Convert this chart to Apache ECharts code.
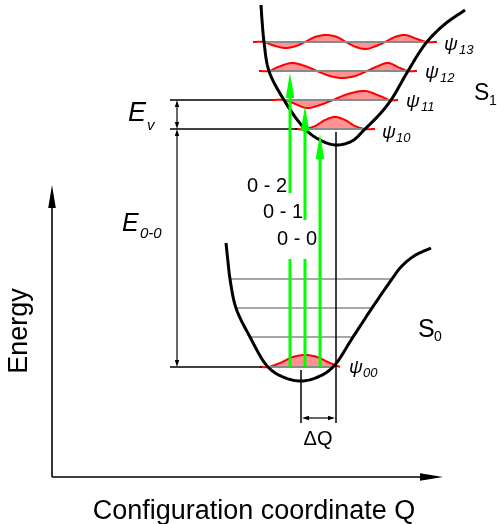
<!DOCTYPE html>
<html>
<head>
<meta charset="utf-8">
<script src="https://cdn.jsdelivr.net/npm/echarts@6/dist/echarts.min.js"></script>
<style>html,body{margin:0;padding:0;background:#fff;}#c{width:497px;height:524px;}</style>
</head>
<body>
<div id="c"></div>
<script>
// Coordinates: Q (horizontal) and E (vertical scale of the diagram, increasing downward)
const S0_curve = [[226,243],[228,262],[230,279],[236,308],[250,337],[268,367],[283,377],[301,381],[318,377],[333,367],[353,337],[372,308],[392,279],[401,267],[414,256],[431,248]];
const S1_curve = [[261,5],[262,20],[264,42],[269,71],[284,100],[305,129],[320,140],[336,145],[352,141],[365,129],[379,115],[391,100],[408,71],[426,43],[445,24],[465,10]];
const S0_levels = [[230,392,279],[236,372,308],[250,353,337]];
const psiLevels = [[268,333,367],[305,365,129],[285,390,100],[269,408,71],[264,427,42]];
const psi00 = [[260,367],[268,367],[280,363],[293,357],[305,355],[317,357],[330,363],[340,367]];
const psi10 = [[295,129],[305,129],[315,126],[325,120],[335,117],[345,120],[355,126],[365,129],[375,129]];
const psi11 = [[272,100],[285,100],[293,103],[307,108],[320,105],[333,100],[348,94],[365,91],[380,96],[390,100],[398,100]];
const psi12 = [[259,71],[269,71],[278,67],[292,63],[305,66],[317,71],[330,76],[342,78],[355,76],[367,71],[378,66],[388,63],[400,68],[408,71],[417,71]];
const psi13 = [[253,42],[264,42],[272,45],[285,48],[296,46],[305,42],[315,37],[326,35],[337,37],[346,42],[356,47],[366,49],[376,46],[385,42],[395,37],[405,35],[417,39],[427,42],[437,42]];
const waveBaselines = [367,129,100,71,42];
const leaderLines = [[170,272,100],[170,297,129],[170,262,367]];
const dropLines = [[336,132,423],[301,370,423]];
const greenSegments = [[290,367,259],[305,367,259]];
const greenArrows = [[290,193,290,73],[305,220,305,106],[320,367,320,134]];
const measureArrows = [[177,100,177,129],[177,129,177,367],[302,418,335,418]];
const axisArrows = [[52,477,52,185],[52,477,443,477]];

const FONT = '"Liberation Sans", Arial, sans-serif';

// centripetal Catmull-Rom drawing through given pixel points (rendering only)
function spline(pts, steps){
  steps = steps || 14;
  const n = pts.length, out = [];
  for (let i = 0; i < n-1; i++){
    const p0 = i>0 ? pts[i-1] : [2*pts[0][0]-pts[1][0], 2*pts[0][1]-pts[1][1]];
    const p1 = pts[i], p2 = pts[i+1];
    const p3 = i+2<n ? pts[i+2] : [2*pts[n-1][0]-pts[n-2][0], 2*pts[n-1][1]-pts[n-2][1]];
    const d = (a,b) => Math.max(Math.pow(Math.hypot(b[0]-a[0], b[1]-a[1]), 0.5), 1e-4);
    const t0 = 0, t1 = t0+d(p0,p1), t2 = t1+d(p1,p2), t3 = t2+d(p2,p3);
    for (let k = (i===0?0:1); k <= steps; k++){
      const t = t1 + (t2-t1)*k/steps;
      const L = (a,b,ta,tb) => [((tb-t)*a[0]+(t-ta)*b[0])/(tb-ta), ((tb-t)*a[1]+(t-ta)*b[1])/(tb-ta)];
      const A1 = L(p0,p1,t0,t1), A2 = L(p1,p2,t1,t2), A3 = L(p2,p3,t2,t3);
      const B1 = L(A1,A2,t0,t2), B2 = L(A2,A3,t1,t3);
      out.push(L(B1,B2,t1,t2));
    }
  }
  return out;
}
function collect(params, api){
  const pts = [];
  for (let i = 0; i < params.dataInsideLength; i++){
    pts.push(api.coord([api.value(0,i), api.value(1,i)]));
  }
  return pts;
}
function curve(color, lw){
  return function(params, api){
    if (params.dataIndexInside !== 0) return null;
    return {type:'polyline', shape:{points:spline(collect(params, api))}, style:{stroke:color, lineWidth:lw, fill:null, lineJoin:'round'}};
  };
}
function wave(params, api){
  if (params.dataIndexInside !== 0) return null;
  const pts = spline(collect(params, api));
  return {type:'group', children:[
    {type:'polygon', shape:{points:pts}, style:{fill:'rgba(255,40,40,0.5)', stroke:null}},
    {type:'polyline', shape:{points:pts}, style:{stroke:'#ff0000', lineWidth:2, fill:null, lineJoin:'round'}}
  ]};
}
function hSeg(color, lw){
  return function(params, api){
    const a = api.coord([api.value(0), api.value(2)]);
    const b = api.coord([api.value(1), api.value(2)]);
    return {type:'line', shape:{x1:a[0],y1:a[1],x2:b[0],y2:b[1]}, style:{stroke:color, lineWidth:lw}};
  };
}
function vSeg(color, lw){
  return function(params, api){
    const a = api.coord([api.value(0), api.value(1)]);
    const b = api.coord([api.value(0), api.value(2)]);
    return {type:'line', shape:{x1:a[0],y1:a[1],x2:b[0],y2:b[1]}, style:{stroke:color, lineWidth:lw}};
  };
}
function arrow(color, lw, headLen, headHalf, both){
  return function(params, api){
    const p1 = api.coord([api.value(0), api.value(1)]);
    const p2 = api.coord([api.value(2), api.value(3)]);
    const dx = p2[0]-p1[0], dy = p2[1]-p1[1];
    const L = Math.hypot(dx, dy), ux = dx/L, uy = dy/L;
    const head = (t, ux, uy) => ({type:'polygon', shape:{points:[
      [t[0], t[1]],
      [t[0]-ux*headLen-uy*headHalf, t[1]-uy*headLen+ux*headHalf],
      [t[0]-ux*headLen+uy*headHalf, t[1]-uy*headLen-ux*headHalf]]},
      style:{fill:color}});
    const e = [p2[0]-ux*headLen*0.7, p2[1]-uy*headLen*0.7];
    const s = both ? [p1[0]+ux*headLen*0.7, p1[1]+uy*headLen*0.7] : p1;
    const ch = [{type:'line', shape:{x1:s[0],y1:s[1],x2:e[0],y2:e[1]}, style:{stroke:color, lineWidth:lw}}, head(p2,ux,uy)];
    if (both) ch.push(head(p1,-ux,-uy));
    return {type:'group', children:ch};
  };
}
function txt(t, x, y, size, opts){
  opts = opts || {};
  return {type:'text', x:x, y:y, rotation:opts.rot||0, z:100,
    style:{text:t, fill:'#000', font:(opts.italic?'italic ':'')+size+'px '+FONT,
      align:opts.align||'left', verticalAlign:'middle',
      textAlign:opts.align||'left', textVerticalAlign:'middle'}};
}

const chart = echarts.init(document.getElementById('c'), null, {renderer:'canvas'});
const series = [];
[psi00, psi10, psi11, psi12, psi13].forEach(w => series.push({type:'custom', data:w, renderItem:wave, encode:{x:0, y:1}, z:3, silent:true}));
series.push({type:'custom', data:S0_levels, renderItem:hSeg('#8a8a8a',1.6), encode:{x:[0,1], y:2}, z:4, silent:true});
series.push({type:'custom', data:psiLevels, renderItem:hSeg('#8a8a8a',1.8), encode:{x:[0,1], y:2}, z:4, silent:true});
series.push({type:'custom', data:leaderLines, renderItem:hSeg('#000',1.3), encode:{x:[0,1], y:2}, z:4, silent:true});
series.push({type:'custom', data:dropLines, renderItem:vSeg('#000',1.5), encode:{x:0, y:[1,2]}, z:4, silent:true});
series.push({type:'custom', data:S0_curve, renderItem:curve('#000',3), encode:{x:0, y:1}, z:5, silent:true});
series.push({type:'custom', data:S1_curve, renderItem:curve('#000',3), encode:{x:0, y:1}, z:5, silent:true});
series.push({type:'custom', data:greenSegments, renderItem:vSeg('#00ff00',3), encode:{x:0, y:[1,2]}, z:6, silent:true});
series.push({type:'custom', data:greenArrows, renderItem:arrow('#00ff00',3,25,4.3,false), encode:{x:[0,2], y:[1,3]}, z:6, silent:true});
series.push({type:'custom', data:measureArrows, renderItem:arrow('#000',1.2,7,2.2,true), encode:{x:[0,2], y:[1,3]}, z:6, silent:true});
series.push({type:'custom', data:axisArrows, renderItem:arrow('#000',1.6,23,3.8,false), encode:{x:[0,2], y:[1,3]}, z:6, silent:true});

const graphics = [
  txt('Energy', 20, 331, 27, {rot:Math.PI/2, align:'center'}),
  txt('Configuration coordinate Q', 254, 512, 27, {align:'center'}),
  txt('E', 128, 113, 27, {italic:true}),
  txt('v', 147, 126, 15, {italic:true}),
  txt('E', 122, 224, 25, {italic:true}),
  txt('0-0', 140, 234, 15, {italic:true}),
  txt('0 - 2', 267, 186, 20, {align:'center'}),
  txt('0 - 1', 283, 212, 20, {align:'center'}),
  txt('0 - 0', 297, 239, 20, {align:'center'}),
  txt('\u03C8', 444, 45, 19, {italic:true}), txt('13', 459, 50, 13, {italic:true}),
  txt('\u03C8', 425, 73, 19, {italic:true}), txt('12', 440, 78, 13, {italic:true}),
  txt('\u03C8', 406, 102, 19, {italic:true}), txt('11', 421, 107, 13, {italic:true}),
  txt('\u03C8', 382, 133, 19, {italic:true}), txt('10', 396, 138, 13, {italic:true}),
  txt('\u03C8', 349, 368, 19, {italic:true}), txt('00', 363, 373, 13, {italic:true}),
  txt('S', 474, 94, 23), txt('1', 489, 101, 14),
  txt('S', 418, 330, 25), txt('0', 434, 337, 14),
  txt('\u0394Q', 318, 439, 20, {align:'center'})
];

chart.setOption({
  animation:false,
  backgroundColor:'#fff',
  grid:{left:0, right:0, top:0, bottom:0},
  xAxis:{type:'value', min:0, max:497, show:false},
  yAxis:{type:'value', min:0, max:524, inverse:true, show:false},
  series:series,
  graphic:graphics
});
</script>
</body>
</html>
